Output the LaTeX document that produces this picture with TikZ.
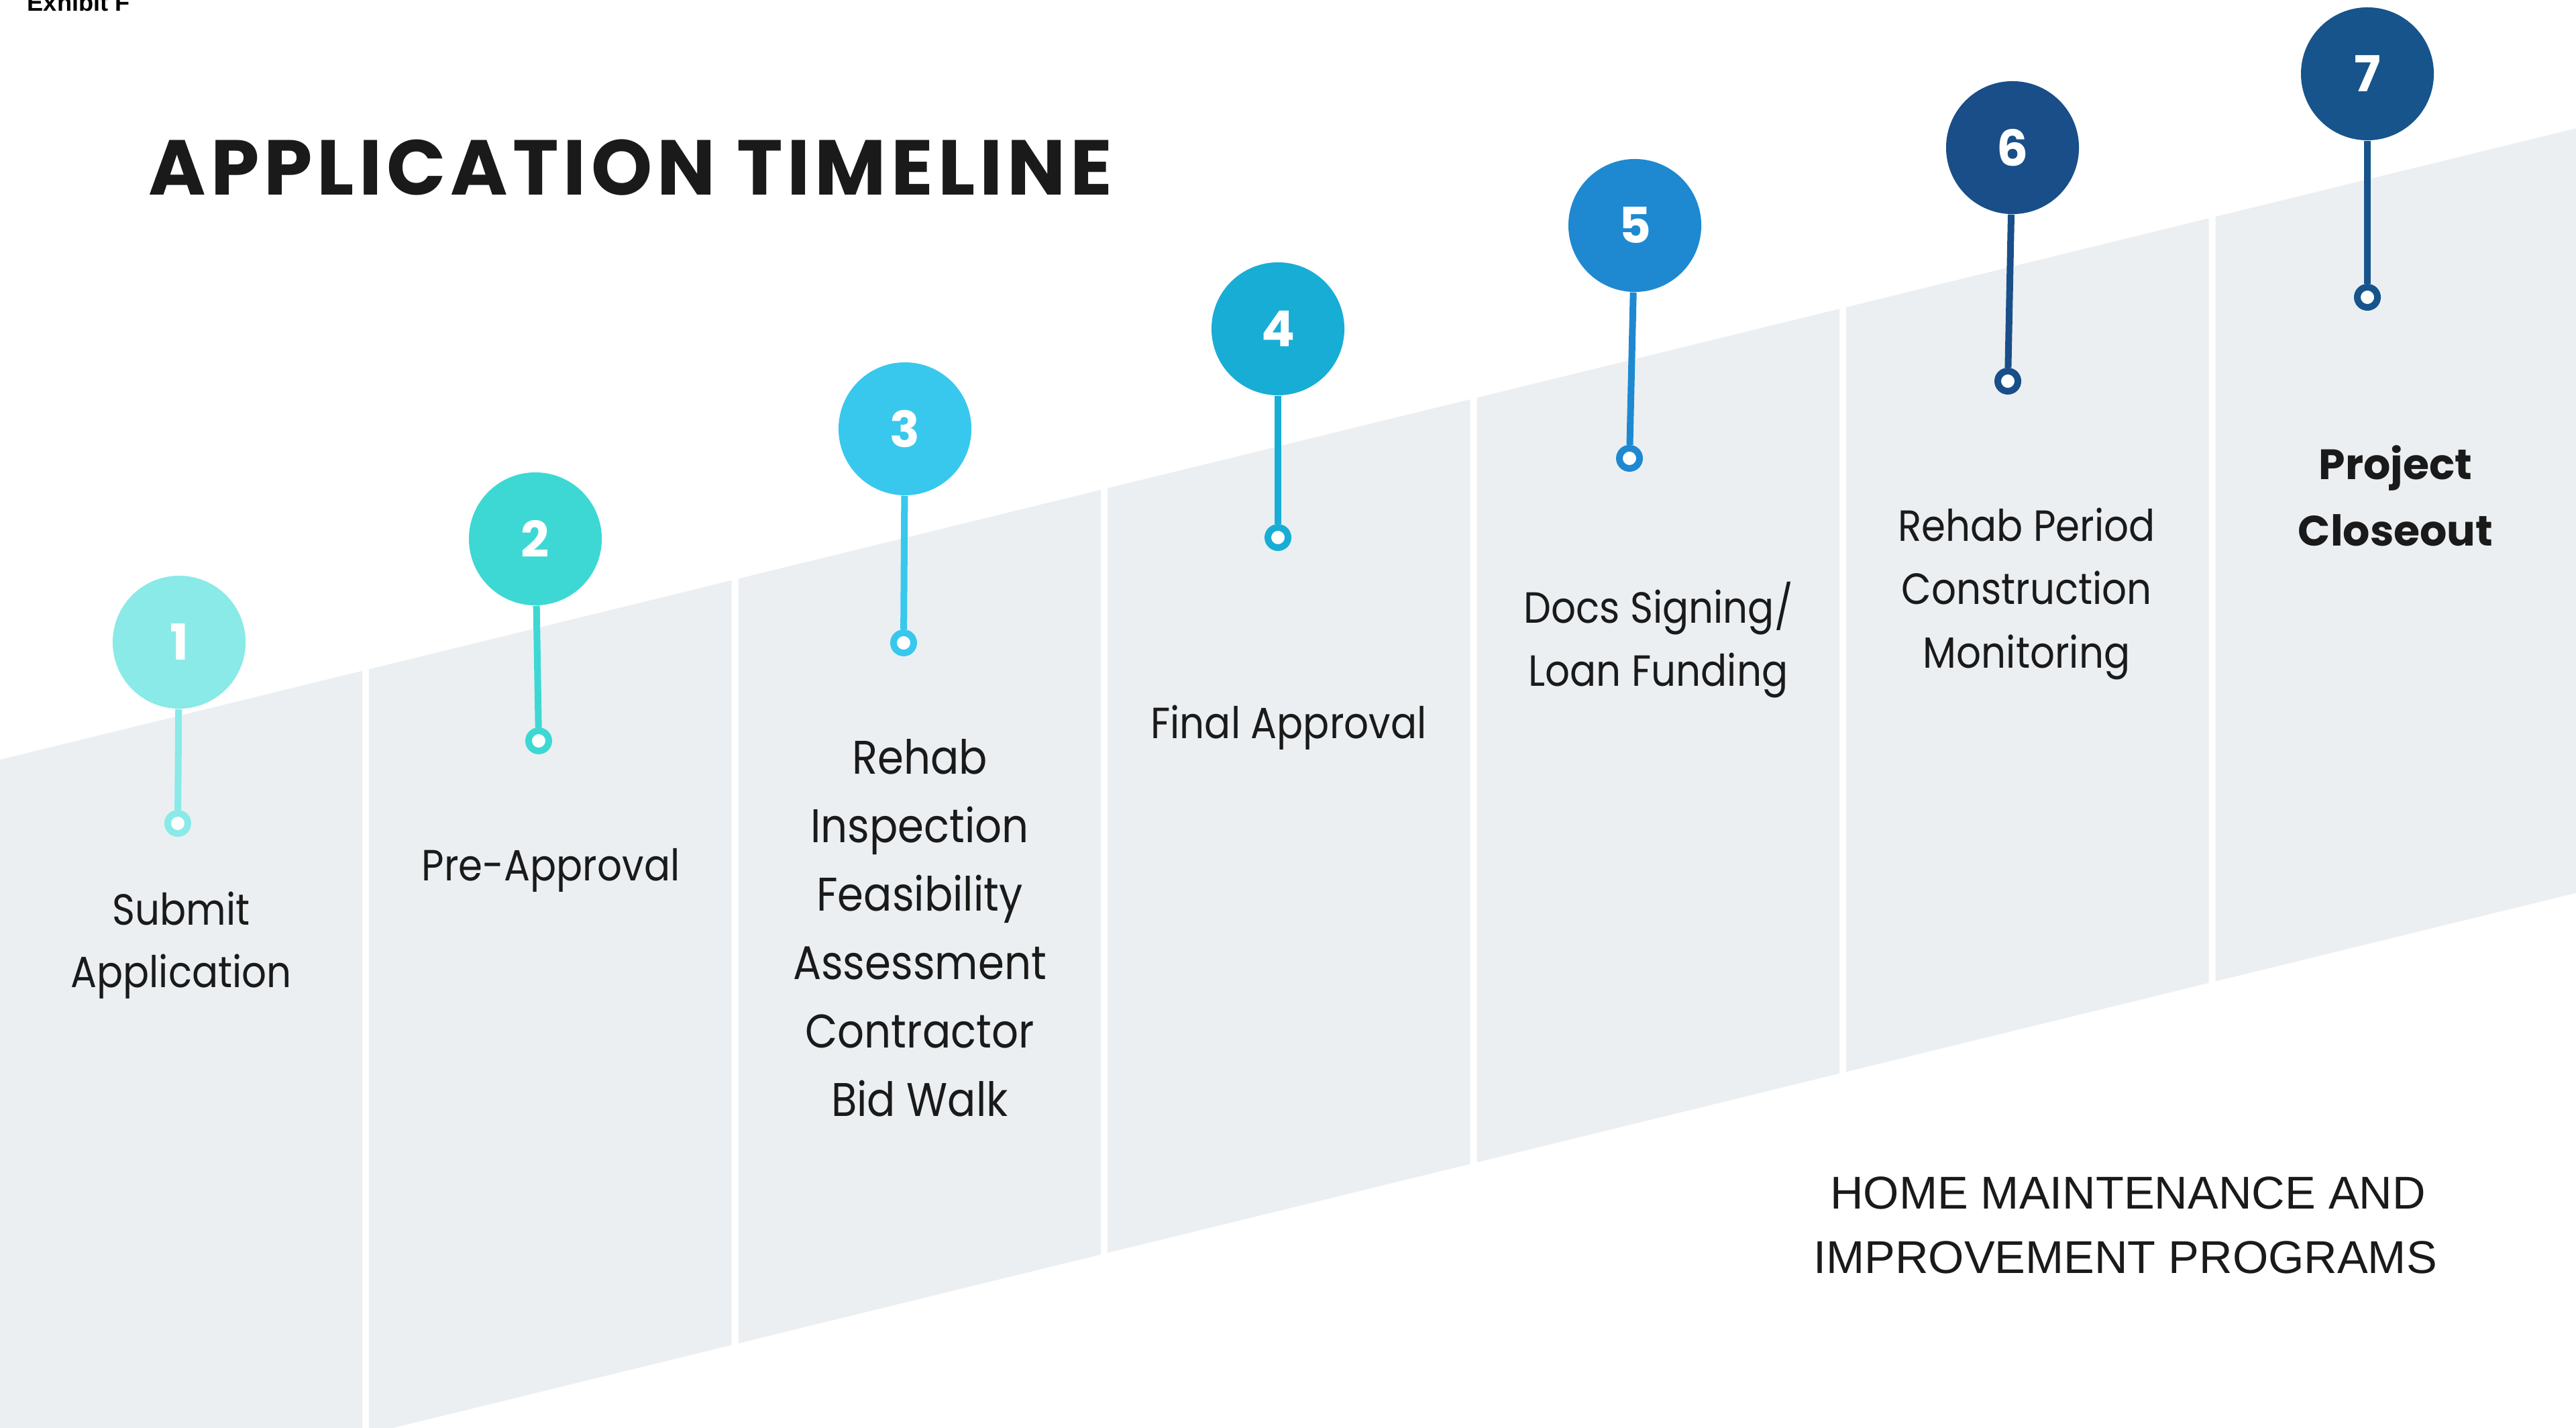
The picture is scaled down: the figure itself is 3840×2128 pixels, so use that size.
\documentclass[tikz,border=0pt]{standalone}
\usepackage{fontspec}
\setmainfont{Poppins}
\newfontfamily\arialfont{Liberation Sans}
\newfontfamily\lblfont[FakeStretch=0.89]{Poppins}
\newfontfamily\titlefont[LetterSpace=6]{Poppins}
\definecolor{bandgrey}{HTML}{EBEFF2}
\definecolor{ink}{HTML}{1A1A1A}
\definecolor{cA}{HTML}{89EAE7}
\definecolor{cB}{HTML}{3DD8D4}
\definecolor{cC}{HTML}{38C8EE}
\definecolor{cD}{HTML}{18ADD5}
\definecolor{cE}{HTML}{1E89D1}
\definecolor{cF}{HTML}{194E89}
\definecolor{cG}{HTML}{17548B}
\begin{document}
\begin{tikzpicture}[x=0.01cm,y=-0.01cm,
  band/.style={fill=bandgrey},
  badge/.style={circle, inner sep=0pt, minimum size=1.98cm, text=white,
    font=\fontsize{21}{21}\selectfont\bfseries},
  pin/.style={circle, inner sep=0pt, minimum size=0.30cm, line width=0.1cm, fill=white},
  stem/.style={line width=0.1cm},
  lbl/.style={anchor=base, inner sep=0pt, text=ink, font=\lblfont\fontsize{18.5}{18.5}\selectfont},
  lblbig/.style={lbl, font=\lblfont\fontsize{20}{20}\selectfont},
  lblbold/.style={lbl, font=\fontsize{18}{18}\selectfont\bfseries},
  foot/.style={anchor=base, inner sep=0pt, text=ink, font=\arialfont\fontsize{19.5}{19.5}\selectfont}]
\useasboundingbox (0,0) rectangle (3840,2128);
\clip (0,0) rectangle (3840,2128);

% rising band, split into seven columns
\foreach \xl/\xr in {0/540, 550/1090.5, 1100.5/1641, 1651/2191.5,
                     2201.5/2742, 2752/3292.5, 3302.5/3840}
  \fill[band] (\xl,{1132-0.245*\xl}) -- (\xr,{1132-0.245*\xr})
              -- (\xr,{2271.5-0.245*\xr}) -- (\xl,{2271.5-0.245*\xl}) -- cycle;

% header
\node[anchor=base west, inner sep=0pt, text=black,
      font=\arialfont\bfseries\fontsize{10.3}{10.3}\selectfont] (exh) at (40,17) {Exhibit F};
\node[anchor=base west, inner sep=0pt, text=ink,
      font=\titlefont\fontsize{33}{33}\selectfont\bfseries] (title) at (221,291) {APPLICATION TIMELINE};

% numbered badges with their pins
\node[badge, fill=cA] (b1) at (267,957) {1};
\node[pin, draw=cA] (p1) at (265,1227) {};
\draw[stem, cA] (b1) -- (p1);

\node[badge, fill=cB] (b2) at (798,803) {2};
\node[pin, draw=cB] (p2) at (803,1104) {};
\draw[stem, cB] (b2) -- (p2);

\node[badge, fill=cC] (b3) at (1349,639) {3};
\node[pin, draw=cC] (p3) at (1347,958) {};
\draw[stem, cC] (b3) -- (p3);

\node[badge, fill=cD] (b4) at (1905,490) {4};
\node[pin, draw=cD] (p4) at (1905,801) {};
\draw[stem, cD] (b4) -- (p4);

\node[badge, fill=cE] (b5) at (2437,336) {5};
\node[pin, draw=cE] (p5) at (2429,683) {};
\draw[stem, cE] (b5) -- (p5);

\node[badge, fill=cF] (b6) at (3000,220) {6};
\node[pin, draw=cF] (p6) at (2993,568) {};
\draw[stem, cF] (b6) -- (p6);

\node[badge, fill=cG] (b7) at (3529,110) {7};
\node[pin, draw=cG] (p7) at (3529,443) {};
\draw[stem, cG] (b7) -- (p7);

% step labels
\node[lbl] (t1a) at (270,1378) {Submit};
\node[lbl] (t1b) at (270,1471) {Application};

\node[lbl] (t2) at (821,1312) {Pre-Approval};

\node[lblbig] (t3a) at (1371,1153) {Rehab};
\node[lblbig] (t3b) at (1371,1255) {Inspection};
\node[lblbig] (t3c) at (1371,1357) {Feasibility};
\node[lblbig] (t3d) at (1371,1459) {Assessment};
\node[lblbig] (t3e) at (1371,1561) {Contractor};
\node[lblbig] (t3f) at (1371,1663) {Bid Walk};

\node[lbl] (t4) at (1921,1100) {Final Approval};

\node[lbl] (t5a) at (2472,928) {Docs Signing/};
\node[lbl] (t5b) at (2472,1022) {Loan Funding};

\node[lbl] (t6a) at (3021,806) {Rehab Period};
\node[lbl] (t6b) at (3021,900) {Construction};
\node[lbl] (t6c) at (3021,995) {Monitoring};

\node[lblbold] (t7a) at (3571,715) {Project};
\node[lblbold] (t7b) at (3571,813) {Closeout};

% footer
\node[foot] (f1) at (3172,1801) {HOME MAINTENANCE AND};
\node[foot] (f2) at (3168,1897) {IMPROVEMENT PROGRAMS};
\end{tikzpicture}
\end{document}
